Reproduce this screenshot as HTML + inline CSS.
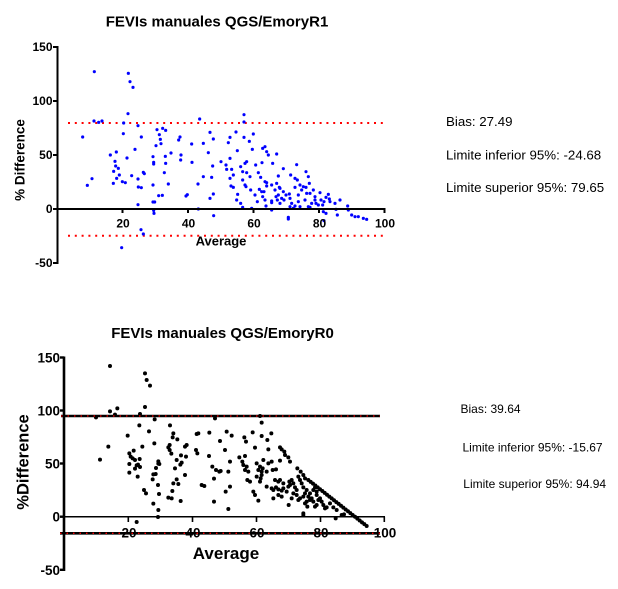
<!DOCTYPE html>
<html><head><meta charset="utf-8"><style>
html,body{margin:0;padding:0;background:#fff;}
svg{display:block;}
</style></head><body>
<svg width="618" height="589" viewBox="0 0 618 589" xmlns="http://www.w3.org/2000/svg" font-family="'Liberation Sans', Arial, sans-serif">
<rect width="618" height="589" fill="#fff"/>

<!-- ===== TOP CHART ===== -->
<text x="217" y="26.5" font-size="15" font-weight="bold" text-anchor="middle">FEVIs manuales QGS/EmoryR1</text>

<!-- red dotted limits -->
<line x1="68" y1="123" x2="384" y2="123" stroke="#ff0000" stroke-width="2" stroke-dasharray="2 4.8"/>
<line x1="68" y1="235.7" x2="384" y2="235.7" stroke="#ff0000" stroke-width="2" stroke-dasharray="2 4.8"/>

<!-- points (zoom coords) -->
<path transform="scale(0.333333)" fill="none" stroke="#0000ff" stroke-width="9.5" stroke-linecap="round" d="
M283 215h0M248 411h0M262 556h0M276 536h0M282 363h0M296 367h0M306 363h0M385 220h0M390 245h0M399 262h0
M384 341h0M371 369h0M370 401h0M331 465h0M349 456h0M341 514h0M347 498h0M345 484h0M355 505h0M358 525h0
M340 550h0M350 535h0M367 545h0M376 548h0M381 474h0M395 527h0M405 448h0M414 377h0M424 411h0M433 521h0
M430 517h0M414 537h0M415 561h0M424 563h0M414 614h0M423 689h0M430 702h0M365 743h0M459 555h0M459 606h0
M464 606h0M462 640h0M461 631h0M459 470h0M461 492h0M461 487h0M468 437h0M471 389h0M478 404h0M481 418h0
M483 431h0M488 385h0M497 391h0M476 587h0M487 586h0M496 469h0M497 490h0M493 518h0M505 552h0M513 459h0
M536 420h0M540 411h0M543 465h0M542 480h0M558 588h0M562 584h0M576 487h0M575 432h0M599 357h0M594 552h0
M595 627h0M641 647h0M865 657h0M972 662h0"/>
<path transform="translate(200,100) scale(0.333333)" fill="none" stroke="#0000ff" stroke-width="9.5" stroke-linecap="round" d="
M132 44h0M132 66h0M30 97h0M40 117h0M10 130h0M25 158h0M38 198h0M10 230h0M35 232h0M40 282h0M30 295h0
M108 96h0M90 112h0M85 128h0M160 102h0M132 112h0M148 124h0M112 152h0M157 148h0M188 145h0M195 140h0
M200 155h0M205 165h0M230 162h0M63 185h0M78 195h0M80 208h0M90 175h0M95 208h0M90 235h0M93 258h0M100 262h0
M113 283h0M122 310h0M128 322h0M100 225h0M122 200h0M140 185h0M135 190h0M128 215h0M140 218h0M128 240h0
M135 255h0M138 260h0M150 230h0M152 270h0M167 195h0M175 218h0M186 188h0M182 232h0M195 245h0M200 248h0
M178 268h0M185 275h0M172 305h0M165 285h0M188 290h0M195 300h0M192 275h0M200 258h0M215 255h0M218 190h0
M235 228h0M250 206h0M230 250h0M225 270h0M240 265h0M235 285h0M228 290h0M245 295h0M232 300h0M215 303h0
M238 262h0M250 275h0M258 285h0M252 300h0M240 310h0M268 282h0M272 225h0M290 194h0M285 235h0M292 240h0
M285 262h0M300 255h0M310 260h0M318 215h0M325 230h0M318 262h0M328 250h0M305 270h0M295 285h0M270 295h0
M275 310h0M285 318h0M295 305h0M320 280h0M330 280h0M340 270h0M345 290h0M345 300h0M335 310h0M325 320h0
M330 322h0M315 300h0M300 320h0M270 320h0M265 352h0M280 325h0M360 278h0M363 300h0M372 305h0M385 283h0
M388 297h0M378 292h0M390 305h0M368 315h0M370 335h0M378 340h0M408 328h0M412 345h0M443 318h0M445 330h0
M455 345h0M465 350h0M475 350h0M490 355h0M500 358h0M215 330h0M155 325h0M110 300h0M215 308h0M198 318h0
M348 310h0M355 315h0M405 310h0M420 300h0"/>

<!-- axes -->
<line x1="57.5" y1="46" x2="57.5" y2="264" stroke="#000" stroke-width="2"/>
<line x1="56.5" y1="209" x2="385.5" y2="209" stroke="#000" stroke-width="2"/>
<g stroke="#000" stroke-width="2">
<line x1="53" y1="47" x2="57.5" y2="47"/>
<line x1="53" y1="101" x2="57.5" y2="101"/>
<line x1="53" y1="155" x2="57.5" y2="155"/>
<line x1="53" y1="209" x2="57.5" y2="209"/>
<line x1="53" y1="263" x2="57.5" y2="263"/>
<line x1="122.5" y1="209" x2="122.5" y2="213"/>
<line x1="188" y1="209" x2="188" y2="213"/>
<line x1="253.5" y1="209" x2="253.5" y2="213"/>
<line x1="319" y1="209" x2="319" y2="213"/>
<line x1="384.5" y1="209" x2="384.5" y2="213"/>
</g>
<g font-size="12" font-weight="bold" text-anchor="end">
<text x="52.5" y="51">150</text>
<text x="52.5" y="105">100</text>
<text x="52.5" y="159">50</text>
<text x="52.5" y="213">0</text>
<text x="52.5" y="267">-50</text>
</g>
<g font-size="12" font-weight="bold" text-anchor="middle">
<text x="123" y="227.5">20</text>
<text x="188.5" y="227.5">40</text>
<text x="254" y="227.5">60</text>
<text x="319.5" y="227.5">80</text>
<text x="385" y="227.5">100</text>
</g>
<text x="221" y="245.5" font-size="13" font-weight="bold" text-anchor="middle">Average</text>
<text transform="translate(24.5,160) rotate(-90)" font-size="13.5" font-weight="bold" text-anchor="middle">% Difference</text>

<g font-size="13.3">
<text x="446" y="126">Bias: 27.49</text>
<text x="446" y="159.5">Limite inferior 95%: -24.68</text>
<text x="446" y="192">Limite superior 95%: 79.65</text>
</g>

<!-- ===== BOTTOM CHART ===== -->
<text x="222.5" y="338" font-size="15" font-weight="bold" text-anchor="middle">FEVIs manuales QGS/EmoryR0</text>

<!-- points -->
<path transform="translate(0,310) scale(0.333333)" fill="none" stroke="#000" stroke-width="12" stroke-linecap="round" d="
M330 168h0M330 304h0M352 295h0M345 314h0M288 322h0M325 410h0M300 449h0M435 190h0M440 210h0M450 227h0
M435 291h0M420 312h0M418 346h0M427 410h0M383 377h0M388 430h0M392 440h0M388 462h0M398 445h0M401 422h0
M405 450h0M410 466h0M419 447h0M414 464h0M420 471h0M405 476h0M388 488h0M413 500h0M410 636h0M438 550h0
M447 364h0M464 328h0M463 400h0M467 492h0M468 474h0M475 454h0M475 461h0M460 493h0M432 540h0M458 508h0
M474 525h0M477 552h0M478 462h0M475 600h0M474 621h0M460 581h0M510 346h0M520 370h0M518 382h0M532 388h0
M509 405h0M505 412h0M509 420h0M514 431h0M530 450h0M525 475h0M541 464h0M545 458h0M543 436h0M555 410h0
M560 405h0M520 520h0M505 563h0M515 565h0M530 508h0M535 522h0M555 495h0M558 440h0M517 543h0M542 573h0"/>
<path transform="translate(190,400) scale(0.333333)" fill="none" stroke="#000" stroke-width="12" stroke-linecap="round" d="
M210 48h0M215 68h0M75 55h0M20 102h0M25 100h0M58 98h0M110 95h0M125 107h0M90 123h0M163 112h0M168 125h0
M188 97h0M215 108h0M244 100h0M232 120h0M195 143h0M235 148h0M270 142h0M275 148h0M283 155h0M285 165h0
M295 172h0M300 185h0M270 182h0M18 150h0M22 160h0M57 168h0M105 150h0M120 185h0M115 215h0M78 210h0
M88 215h0M92 213h0M67 200h0M72 236h0M35 255h0M43 258h0M120 260h0M107 275h0M72 305h0M115 327h0
M148 172h0M157 185h0M165 168h0M160 195h0M170 200h0M165 210h0M175 215h0M172 240h0M180 245h0M190 275h0
M195 285h0M205 302h0M200 190h0M205 210h0M210 200h0M215 215h0M220 180h0M218 205h0M230 215h0M212 235h0
M200 230h0M210 245h0M215 225h0M235 190h0M245 185h0M248 210h0M258 208h0M255 240h0M265 245h0M270 240h0
M280 250h0M230 260h0M245 265h0M250 270h0M258 262h0M265 268h0M275 272h0M280 265h0M250 295h0M265 285h0
M275 290h0M290 275h0M295 260h0M298 245h0M300 255h0M305 240h0M310 250h0M315 262h0M320 270h0M320 285h0
M310 280h0M305 295h0M296 315h0M322 205h0M332 215h0M340 225h0M345 235h0M325 230h0M330 240h0M335 250h0
M340 262h0M350 270h0M345 280h0M340 290h0M330 295h0M325 300h0M355 290h0M360 280h0M365 295h0M370 305h0
M360 300h0M350 305h0M375 320h0M380 315h0M385 300h0M345 310h0M352 320h0M395 305h0M400 315h0M410 322h0
M405 325h0M420 310h0M430 322h0M440 330h0M437 355h0M455 345h0M462 343h0M340 340h0M340 345h0M380 285h0
M390 295h0M370 270h0M375 262h0M380 275h0
M355 240h0M362 245.5h0M369 251h0M376 256.6h0M383 262.1h0M390 267.6h0M397 273.1h0M404 278.7h0M411 284.2h0
M418 289.7h0M425 295.2h0M432 300.8h0M439 306.3h0M446 311.8h0M453 317.3h0M460 322.8h0M467 328.4h0
M474 333.9h0M481 339.4h0M488 344.9h0M495 350.2h0M502 356h0M509 361.5h0M516 367h0M523 372.5h0M530 378h0"/>

<!-- bias / limit lines -->
<line x1="61" y1="416" x2="380" y2="416" stroke="#000" stroke-width="2.6"/>
<line x1="61" y1="416" x2="380" y2="416" stroke="#ff0000" stroke-width="1.3" stroke-dasharray="1.5 5"/>
<line x1="60" y1="533.3" x2="380" y2="533.3" stroke="#000" stroke-width="2.6"/>
<line x1="60" y1="533.3" x2="380" y2="533.3" stroke="#ff0000" stroke-width="1.3" stroke-dasharray="1.5 5"/>

<!-- axes -->
<line x1="64" y1="356.5" x2="64" y2="571" stroke="#000" stroke-width="2.6"/>
<line x1="64" y1="516.7" x2="385" y2="516.7" stroke="#000" stroke-width="1.5"/>
<g stroke="#000" stroke-width="2.4">
<line x1="60" y1="357.5" x2="64" y2="357.5"/>
<line x1="60" y1="410.5" x2="64" y2="410.5"/>
<line x1="60" y1="463.5" x2="64" y2="463.5"/>
<line x1="60" y1="516.7" x2="64" y2="516.7"/>
<line x1="60" y1="569.8" x2="64" y2="569.8"/>
</g>
<g stroke="#000" stroke-width="1.6">
<line x1="128.3" y1="516.7" x2="128.3" y2="522"/>
<line x1="192.5" y1="516.7" x2="192.5" y2="522"/>
<line x1="256.5" y1="516.7" x2="256.5" y2="522"/>
<line x1="320.5" y1="516.7" x2="320.5" y2="522"/>
<line x1="384.3" y1="516.7" x2="384.3" y2="522"/>
</g>
<g font-size="13.5" font-weight="bold" text-anchor="end">
<text x="60" y="362.5">150</text>
<text x="60" y="415.5">100</text>
<text x="60" y="468.5">50</text>
<text x="60" y="521.7">0</text>
<text x="60" y="574.8">-50</text>
</g>
<g font-size="13.5" font-weight="bold" text-anchor="middle">
<text x="129" y="537.5">20</text>
<text x="193" y="537.5">40</text>
<text x="257" y="537.5">60</text>
<text x="321" y="537.5">80</text>
<text x="385" y="537.5">100</text>
</g>
<text x="226" y="559" font-size="17" font-weight="bold" text-anchor="middle">Average</text>
<text transform="translate(28.5,462) rotate(-90)" font-size="16.5" font-weight="bold" text-anchor="middle">%Difference</text>

<g font-size="12">
<text x="460.5" y="413">Bias: 39.64</text>
<text x="462.5" y="451.5">Limite inferior 95%: -15.67</text>
<text x="463.3" y="488">Limite superior 95%: 94.94</text>
</g>
</svg>
</body></html>
